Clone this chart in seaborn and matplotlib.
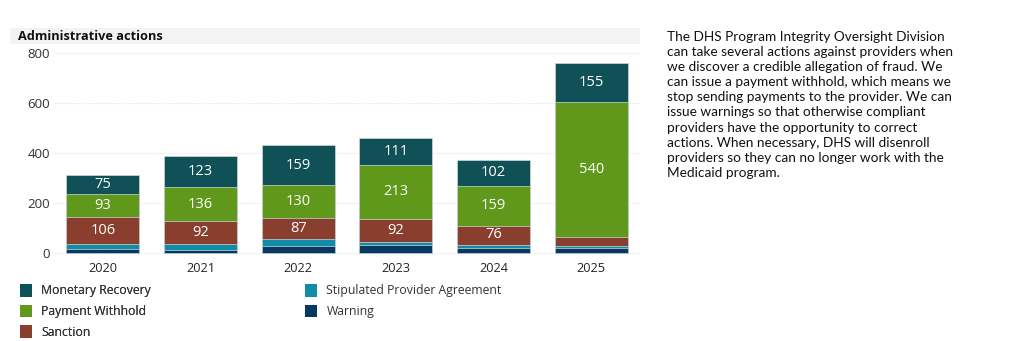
import matplotlib
matplotlib.use("Agg")
import matplotlib.pyplot as plt
import seaborn as sns
import numpy as np
import pandas as pd
from matplotlib.patches import Rectangle, Patch

years = ["2020", "2021", "2022", "2023", "2024", "2025"]
series_names = ["Monetary Recovery", "Payment Withhold", "Sanction",
                "Stipulated Provider Agreement", "Warning"]
monetary_recovery = [75, 123, 159, 111, 102, 155]
payment_withhold = [93, 136, 130, 213, 159, 540]
sanction = [106, 92, 87, 92, 76, 38]
stipulated = [20, 22, 28, 12, 14, 5]
warning = [18, 14, 27, 34, 20, 22]
yticks = [0, 200, 400, 600, 800]

colors = {
    "Monetary Recovery": "#0f5156",
    "Payment Withhold": "#5f981b",
    "Sanction": "#8a3f2e",
    "Stipulated Provider Agreement": "#118ca6",
    "Warning": "#063861",
}

title = "Administrative actions"
paragraph = ("The DHS Program Integrity Oversight Division\n"
             "can take several actions against providers when\n"
             "we discover a credible allegation of fraud. We\n"
             "can issue a payment withhold, which means we\n"
             "stop sending payments to the provider. We can\n"
             "issue warnings so that otherwise compliant\n"
             "providers have the opportunity to correct\n"
             "actions. When necessary, DHS will disenroll\n"
             "providers so they can no longer work with the\n"
             "Medicaid program.")

sns.set_theme(style="white")
plt.rcParams['font.family'] = ['Open Sans', 'DejaVu Sans']

# stacking order bottom -> top
stack = [("Warning", warning), ("Stipulated Provider Agreement", stipulated),
         ("Sanction", sanction), ("Payment Withhold", payment_withhold),
         ("Monetary Recovery", monetary_recovery)]
cum = {}
running = np.zeros(len(years))
bottoms = {}
for name, vals in stack:
    bottoms[name] = running.copy()
    running = running + np.array(vals)
    cum[name] = running.copy()

fig = plt.figure(figsize=(10.24, 3.41), dpi=100)
ax = fig.add_axes([54/1024, 1-255/341, 586/1024, 207/341])

# draw from tallest cumulative down
for name, vals in reversed(stack):
    df = pd.DataFrame({"year": years, "value": cum[name]})
    sns.barplot(data=df, x="year", y="value", color=colors[name], ax=ax,
                width=0.75, saturation=1, edgecolor="#cfd8dc", linewidth=0.5,
                zorder=3)

# segment labels
for name, vals in stack:
    if name in ("Monetary Recovery", "Payment Withhold", "Sanction"):
        for i, v in enumerate(vals):
            if v >= 60:
                ax.text(i, bottoms[name][i] + v / 2, str(v), ha="center",
                        va="center", color="white", fontsize=10.5, zorder=5)

ax.set_xlim(-0.5, 5.5)
ax.set_ylim(-8, 820)
ax.set_yticks(yticks)
ax.set_xlabel("")
ax.set_ylabel("")
for s in ax.spines.values():
    s.set_visible(False)
ax.grid(axis="y", color="#e6e6e6", linestyle=(0, (1, 1)), linewidth=0.8, zorder=0)
ax.tick_params(axis="y", labelsize=9.5, labelcolor="#333333", pad=3, length=0)
ax.tick_params(axis="x", labelsize=9.2, labelcolor="#252525", pad=5, length=0)

# title band
fig.patches.append(Rectangle((10/1024, 1-44/341), 630/1024, 16/341,
                             transform=fig.transFigure, facecolor="#f3f3f3",
                             edgecolor="none", zorder=0))
fig.text(18/1024, 1-36/341, title, fontsize=9.2, fontweight="bold",
         va="center", ha="left", color="#111111")

# legends
h1 = [Patch(facecolor=colors[n], edgecolor="none") for n in series_names[:3]]
h2 = [Patch(facecolor=colors[n], edgecolor="none") for n in series_names[3:]]
common = dict(frameon=False, fontsize=8.8, handlelength=1.0, handleheight=1.2,
              handletextpad=0.75, labelspacing=0.6, borderpad=0, borderaxespad=0,
              labelcolor="#333333")
leg1 = fig.legend(h1, series_names[:3], loc="upper left",
                  bbox_to_anchor=(20/1024, 1-284/341), **common)
fig.add_artist(leg1)
leg2 = fig.legend(h2, series_names[3:], loc="upper left",
                  bbox_to_anchor=(305/1024, 1-284/341), **common)

fig.text(667/1024, 1-31/341, paragraph, fontsize=9.8, va="top", ha="left",
         color="#111111", linespacing=1.31, family=["Lato", "DejaVu Sans"])

fig.savefig("out.png", dpi=100, facecolor="white")
